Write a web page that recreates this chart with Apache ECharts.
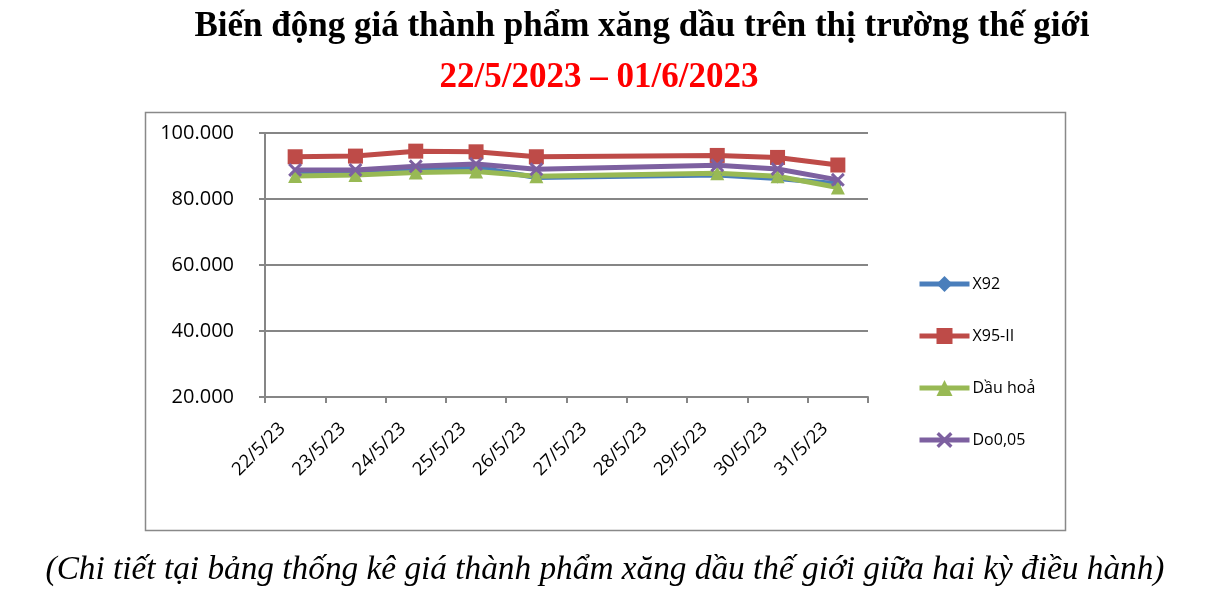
<!DOCTYPE html>
<html><head><meta charset="utf-8">
<script src="https://cdn.jsdelivr.net/npm/echarts@6/dist/echarts.min.js"></script>
<style>html,body{margin:0;padding:0;background:#fff;}#c{width:1230px;height:602px;}</style>
</head><body><div id="c"></div>
<script>
const categories = ['22/5/23','23/5/23','24/5/23','25/5/23','26/5/23','27/5/23','28/5/23','29/5/23','30/5/23','31/5/23'];
const x92 = [87.9, 87.9, 89.2, 89.6, 86.5, null, null, 87.3, 86.2, 84.6];
const x95 = [92.8, 93.0, 94.5, 94.3, 92.8, null, null, 93.2, 92.6, 90.3];
const dauHoa = [87.0, 87.3, 88.0, 88.3, 86.9, null, null, 87.8, 86.9, 83.5];
const do005 = [88.8, 88.8, 89.9, 90.6, 89.0, null, null, 90.2, 89.1, 85.8];
const yTicks = [20, 40, 60, 80, 100];
const seriesNames = ['X92', 'X95-II', 'Dầu hoả', 'Do0,05'];

const xPath = 'path://M0,1.5L1.5,0L5,3.5L8.5,0L10,1.5L6.5,5L10,8.5L8.5,10L5,6.5L1.5,10L0,8.5L3.5,5Z';

const chart = echarts.init(document.getElementById('c'));
const mk = (name, data, color, symbol, size) => ({
  name, type: 'line', data, connectNulls: true,
  symbol, symbolSize: size,
  lineStyle: { color, width: 5 },
  itemStyle: { color },
  z: 2
});
chart.setOption({
  animation: false,
  title: [
    { text: 'Biến động giá thành phẩm xăng dầu trên thị trường thế giới', left: 637, top: 4, textAlign: 'center',
      textStyle: { fontFamily: 'Liberation Serif', fontWeight: 'bold', fontSize: 35, color: '#000' } },
    { text: '22/5/2023 – 01/6/2023', left: 594, top: 55, textAlign: 'center',
      textStyle: { fontFamily: 'Liberation Serif', fontWeight: 'bold', fontSize: 35, color: '#ff0000' } },
    { text: '(Chi tiết tại bảng thống kê giá thành phẩm xăng dầu thế giới giữa hai kỳ điều hành)', left: 600, top: 549, textAlign: 'center',
      textStyle: { fontFamily: 'Liberation Serif', fontStyle: 'italic', fontWeight: 'normal', fontSize: 33.3, color: '#000' } }
  ],
  graphic: [
    { type: 'rect', shape: { x: 145.5, y: 112.5, width: 920, height: 418 }, style: { fill: 'none', stroke: '#898989', lineWidth: 1.5 }, z: -1 }
  ],
  legend: {
    orient: 'vertical', left: 912, top: 267, itemGap: 28, itemWidth: 50, itemHeight: 20,
    data: seriesNames,
    lineStyle: { width: 5 },
    textStyle: { fontFamily: 'Open Sans', fontSize: 16, color: '#000', padding: [0,0,0,-2], lineHeight: 24 }
  },
  grid: { left: 265, right: 362, top: 133, bottom: 205 },
  xAxis: {
    type: 'category', data: categories, boundaryGap: true,
    axisLine: { lineStyle: { color: '#868686', width: 2 } },
    axisTick: { show: true, length: 6, lineStyle: { color: '#868686', width: 2 } },
    axisLabel: { rotate: 45, fontFamily: 'Open Sans', fontSize: 18.5, color: '#000', margin: 16, padding: [0, 18, 0, 0] }
  },
  yAxis: {
    type: 'value', min: 20, max: 100, interval: 20,
    axisLine: { show: true, lineStyle: { color: '#868686', width: 2 } },
    axisTick: { show: true, length: 6, lineStyle: { color: '#868686', width: 2 } },
    splitLine: { show: true, lineStyle: { color: '#868686', width: 2 } },
    axisLabel: { fontFamily: 'Open Sans', fontSize: 20, color: '#000', margin: 31,
      formatter: v => yTicks.includes(v) ? v + '.000' : '' }
  },
  series: [
    mk('X92', x92, '#4a7ebb', 'diamond', 10),
    mk('X95-II', x95, '#be4b48', 'rect', 15),
    mk('Dầu hoả', dauHoa, '#98b954', 'triangle', 14),
    mk('Do0,05', do005, '#7d60a0', xPath, 14)
  ]
});
</script></body></html>
